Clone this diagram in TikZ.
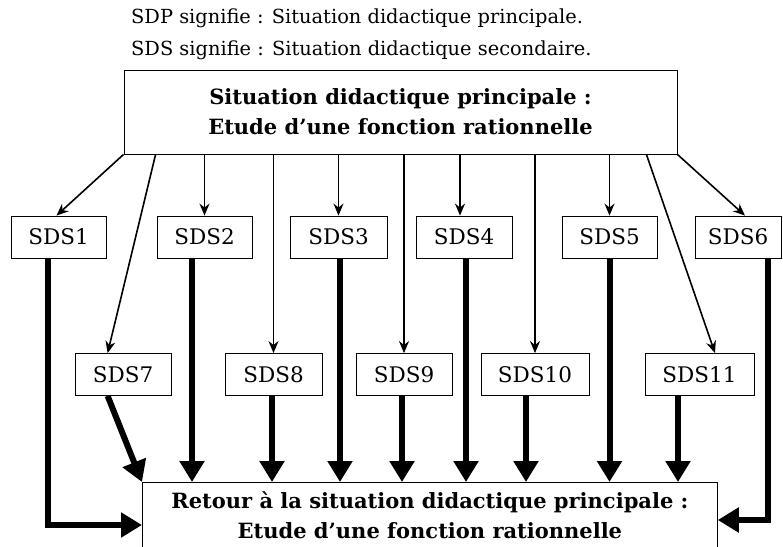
\documentclass[tikz,border=0pt]{standalone}
\usepackage{fontspec}
\setmainfont{DejaVu Serif}
\usetikzlibrary{arrows.meta,calc}

\begin{document}
\begin{tikzpicture}[x=1pt, y=-1pt,
    sds/.style={draw, line width=0.8pt, minimum height=42pt, inner sep=0pt,
                text centered, font=\fontsize{21.5}{24}\selectfont},
    titre/.style={draw, line width=0.8pt, inner sep=0pt, align=center,
                  font=\bfseries\fontsize{21}{30}\selectfont},
    fin/.style={-{Stealth[length=12pt,width=10pt]}, line width=1.6pt},
    gros/.style={-{Triangle[length=21pt,width=24pt]}, line width=6pt}]
	\useasboundingbox (0,0) rectangle (783,546);

	\node[anchor=north west, align=left, inner sep=0pt,
	      font=\fontsize{19.4}{32}\selectfont] (legende) at (131,9)
	      {SDP signifie : Situation didactique principale.\\SDS signifie : Situation didactique secondaire.};
	\node[titre, minimum width=553pt, minimum height=84pt] (sdp) at (400.5,112)
	      {Situation didactique principale :\\Etude d’une fonction rationnelle};
	\node[titre, anchor=north west, minimum width=575pt, minimum height=66pt] (retour) at (142,482)
	      {Retour à la situation didactique principale :\\Etude d’une fonction rationnelle};

	\node[sds, minimum width=95pt]  (s1)  at (58.5,237)  {SDS1};
	\node[sds, minimum width=95pt]  (s2)  at (204.5,237) {SDS2};
	\node[sds, minimum width=97pt]  (s3)  at (338.5,237) {SDS3};
	\node[sds, minimum width=96pt]  (s4)  at (464,237)   {SDS4};
	\node[sds, minimum width=95pt]  (s5)  at (609.5,237) {SDS5};
	\node[sds, minimum width=86pt]  (s6)  at (738,237)   {SDS6};
	\node[sds, minimum width=96pt]  (s7)  at (123,374.5) {SDS7};
	\node[sds, minimum width=97pt]  (s8)  at (273.5,374.5) {SDS8};
	\node[sds, minimum width=96pt]  (s9)  at (404,374.5) {SDS9};
	\node[sds, minimum width=108pt] (s10) at (535,374.5) {SDS10};
	\node[sds, minimum width=109pt] (s11) at (699.5,374.5) {SDS11};

	% vers les situations secondaires
	\draw[fin] (sdp.south west) -- ($(s1.north)+(-2,0)$);
	\draw[fin] ($(sdp.south west)+(32,0)$) -- ($(s7.north west)+(33,0)$);
	\draw[fin] (s2.north |- sdp.south) -- (s2.north);
	\draw[fin] (s8.north |- sdp.south) -- (s8.north);
	\draw[fin] (s3.north |- sdp.south) -- (s3.north);
	\draw[fin] (s9.north |- sdp.south) -- (s9.north);
	\draw[fin] ($(s4.north)+(-4,0)$) coordinate (a4) (a4 |- sdp.south) -- (a4);
	\draw[fin] (s10.north |- sdp.south) -- (s10.north);
	\draw[fin] (s5.north |- sdp.south) -- (s5.north);
	\draw[fin] ($(sdp.south east)+(-31,0)$) -- ($(s11.north)+(15.5,0)$);
	\draw[fin] (sdp.south east) -- ($(s6.north)+(7,0)$);

	% retour
	\draw[gros] ($(s1.south)+(-10.5,0)$) |- ($(retour.north west)+(0,43)$);
	\draw[gros] ($(s7.south west)+(33,0)$) -- (retour.north west);
	\draw[gros] ($(s2.south)+(-12.5,0)$) coordinate (b2) -- (b2 |- retour.north);
	\draw[gros] ($(s8.south)+(-1.5,0)$) coordinate (b8) -- (b8 |- retour.north);
	\draw[gros] ($(s3.south)+(1.5,0)$) coordinate (b3) -- (b3 |- retour.north);
	\draw[gros] ($(s9.south)+(-2,0)$) coordinate (b9) -- (b9 |- retour.north);
	\draw[gros] ($(s4.south)+(2,0)$) coordinate (b4) -- (b4 |- retour.north);
	\draw[gros] ($(s10.south)+(-9,0)$) coordinate (b10) -- (b10 |- retour.north);
	\draw[gros] (s5.south) coordinate (b5) -- (b5 |- retour.north);
	\draw[gros] ($(s11.south)+(-21.5,0)$) coordinate (b11) -- (b11 |- retour.north);
	\draw[gros] ($(s6.south)+(30,0)$) |- ($(retour.north east)+(0,38)$);

\end{tikzpicture}
\end{document}
